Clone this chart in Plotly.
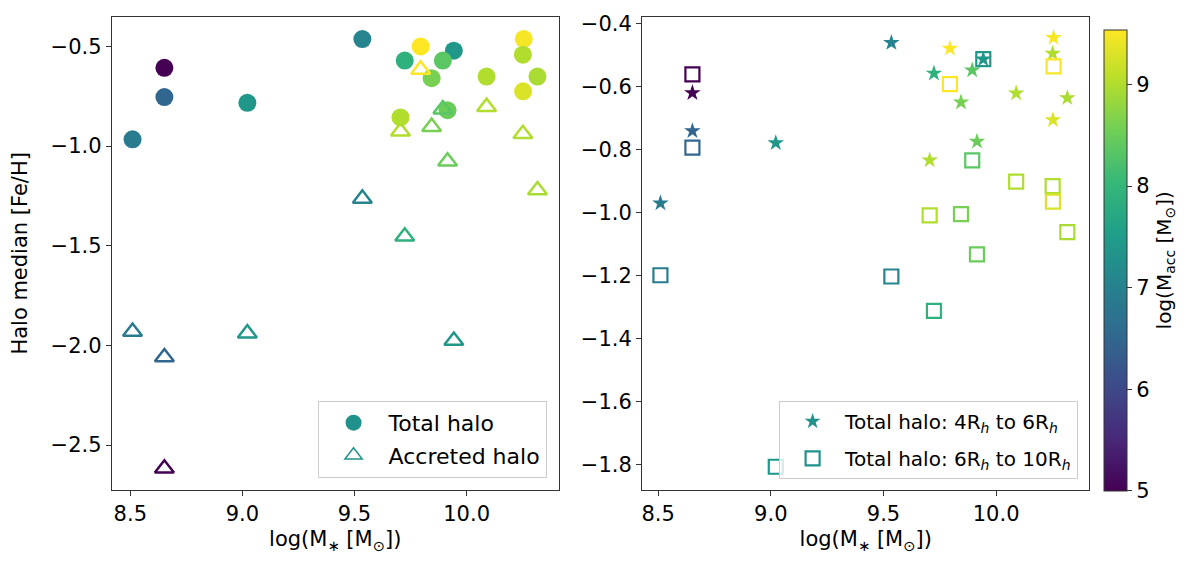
import plotly.graph_objects as go

# One entry per galaxy
log_mstar = [8.51, 8.652, 8.652, 9.022, 9.535, 9.724, 9.795, 9.943, 9.894,
             9.844, 10.089, 10.255, 10.251, 10.316, 10.252, 9.705, 9.915]
log_macc = [6.9, 5.0, 6.5, 7.4, 7.05, 7.9, 9.54, 7.4, 8.35,
            8.6, 9.0, 9.5, 9.0, 8.95, 9.3, 9.0, 8.5]

feh_total = [-0.966, -0.607, -0.754, -0.783, -0.463, -0.571, -0.500, -0.521, -0.571,
             -0.659, -0.651, -0.462, -0.541, -0.651, -0.725, -0.856, -0.820]
feh_accreted = [-1.931, -2.617, -2.059, -1.939, -1.263, -1.453, -0.616, -1.976, -0.815,
                -0.903, -0.803, None, -0.939, -1.221, None, -0.926, -1.077]
feh_4_6 = [-0.969, -0.619, -0.740, -0.778, -0.460, -0.557, -0.478, -0.512, -0.547,
           -0.649, -0.620, -0.444, -0.494, -0.635, -0.705, -0.833, -0.773]
feh_6_10 = [-1.198, -0.560, -0.793, -1.806, -1.202, -1.311, -0.591, -0.512, -0.833,
            -1.004, -0.901, -0.535, -0.915, -1.061, -0.964, -1.008, -1.132]

FONT = "DejaVu Sans"
LEGEND_COLOR = "#21918c"
W, H = 1200, 569
PAGE_MARGIN = 8  # the html body adds this much around the plot


# pixel position on the page -> paper coordinates
def px(x):
    return (x - PAGE_MARGIN) / W


def py(y):
    return 1 - (y - PAGE_MARGIN) / H


fig = go.Figure()

# Left panel: total and accreted halo
fig.add_trace(go.Scatter(
    x=log_mstar, y=feh_total, mode="markers", xaxis="x", yaxis="y",
    marker=dict(symbol="circle", size=18, color=log_macc, coloraxis="coloraxis"),
    showlegend=False,
))
fig.add_trace(go.Scatter(
    x=log_mstar, y=feh_accreted, mode="markers", xaxis="x", yaxis="y",
    marker=dict(symbol="triangle-up-open", size=16.5, color=log_macc,
                coloraxis="coloraxis", line=dict(width=2.5)),
    showlegend=False,
))

# Right panel: radial bins
fig.add_trace(go.Scatter(
    x=log_mstar, y=feh_4_6, mode="markers", xaxis="x2", yaxis="y2",
    marker=dict(symbol="star", size=12.5, color=log_macc, coloraxis="coloraxis"),
    showlegend=False,
))
fig.add_trace(go.Scatter(
    x=log_mstar, y=feh_6_10, mode="markers", xaxis="x2", yaxis="y2",
    marker=dict(symbol="square-open", size=14, color=log_macc,
                coloraxis="coloraxis", line=dict(width=2.2)),
    showlegend=False,
))

# Legend entries
fig.add_trace(go.Scatter(x=[None], y=[None], mode="markers", name="Total halo",
                         marker=dict(symbol="circle", size=16, color=LEGEND_COLOR),
                         legend="legend", legendgroup="a"))
fig.add_trace(go.Scatter(x=[None], y=[None], mode="markers", name="Accreted halo",
                         marker=dict(symbol="triangle-up-open", size=15, color=LEGEND_COLOR,
                                     line=dict(width=1.5)),
                         legend="legend", legendgroup="b"))
fig.add_trace(go.Scatter(x=[None], y=[None], mode="markers", xaxis="x2", yaxis="y2",
                         name="Total halo: 4R<sub><i>h</i></sub> to 6R<sub><i>h</i></sub>",
                         marker=dict(symbol="star", size=12, color=LEGEND_COLOR),
                         legend="legend2", legendgroup="c"))
fig.add_trace(go.Scatter(x=[None], y=[None], mode="markers", xaxis="x2", yaxis="y2",
                         name="Total halo: 6R<sub><i>h</i></sub> to 10R<sub><i>h</i></sub>",
                         marker=dict(symbol="square-open", size=14, color=LEGEND_COLOR,
                                     line=dict(width=2.2)),
                         legend="legend2", legendgroup="d"))

axis_common = dict(
    showline=True, linecolor="#333", linewidth=1.3, mirror=True,
    ticks="outside", ticklen=5, tickcolor="#333", showgrid=False, zeroline=False,
    tickfont=dict(size=21, color="black"), tickformat=".1f", ticklabeloverflow="allow",
)
xtitle = dict(text="log(M<sub>∗</sub> [M<sub>⊙</sub>])", font=dict(size=21, color="black"),
              standoff=6)

fig.update_layout(
    width=W, height=H,
    margin=dict(l=0, r=0, t=0, b=0),
    paper_bgcolor="white", plot_bgcolor="white",
    font=dict(family=FONT, color="black"),
    xaxis=dict(axis_common, domain=[px(111), px(558)], range=[8.418, 10.41],
               dtick=0.5, tick0=8.5, title=xtitle, anchor="y"),
    yaxis=dict(axis_common, domain=[py(489), py(12)], range=[-2.724, -0.352],
               dtick=0.5, tick0=-2.5, anchor="x",
               title=dict(text="Halo median [Fe/H]", font=dict(size=21, color="black"),
                          standoff=17)),
    xaxis2=dict(axis_common, domain=[px(641.7), px(1089.3)], range=[8.429, 10.414],
                dtick=0.5, tick0=8.5, title=xtitle, anchor="y2"),
    yaxis2=dict(axis_common, domain=[py(489), py(12)], range=[-1.879, -0.378],
                dtick=0.2, tick0=-1.8, anchor="x2"),
    coloraxis=dict(
        colorscale="Viridis", cmin=5.0, cmax=9.54,
        colorbar=dict(
            x=px(1104), xanchor="left", xpad=0,
            y=py(490), yanchor="bottom", ypad=0,
            len=465 / H, lenmode="fraction", thickness=23,
            outlinewidth=1, outlinecolor="#333",
            ticks="outside", ticklen=5, tickcolor="#333",
            tickvals=[5, 6, 7, 8, 9], tickfont=dict(size=21, color="black"),
            title=dict(text="log(M<sub>acc</sub> [M<sub>⊙</sub>])", side="right",
                       font=dict(size=20, color="black")),
        ),
    ),
    legend=dict(
        x=px(546), xanchor="right", y=py(477), yanchor="bottom",
        bgcolor="rgba(255,255,255,0.8)", bordercolor="#ccc", borderwidth=1,
        font=dict(size=22, color="black"), itemwidth=60, tracegroupgap=1,
    ),
    legend2=dict(
        x=px(1078), xanchor="right", y=py(478), yanchor="bottom",
        bgcolor="rgba(255,255,255,0.8)", bordercolor="#ccc", borderwidth=1,
        font=dict(size=20, color="black"), itemwidth=55, tracegroupgap=8,
    ),
)

fig.write_html("out.html")
